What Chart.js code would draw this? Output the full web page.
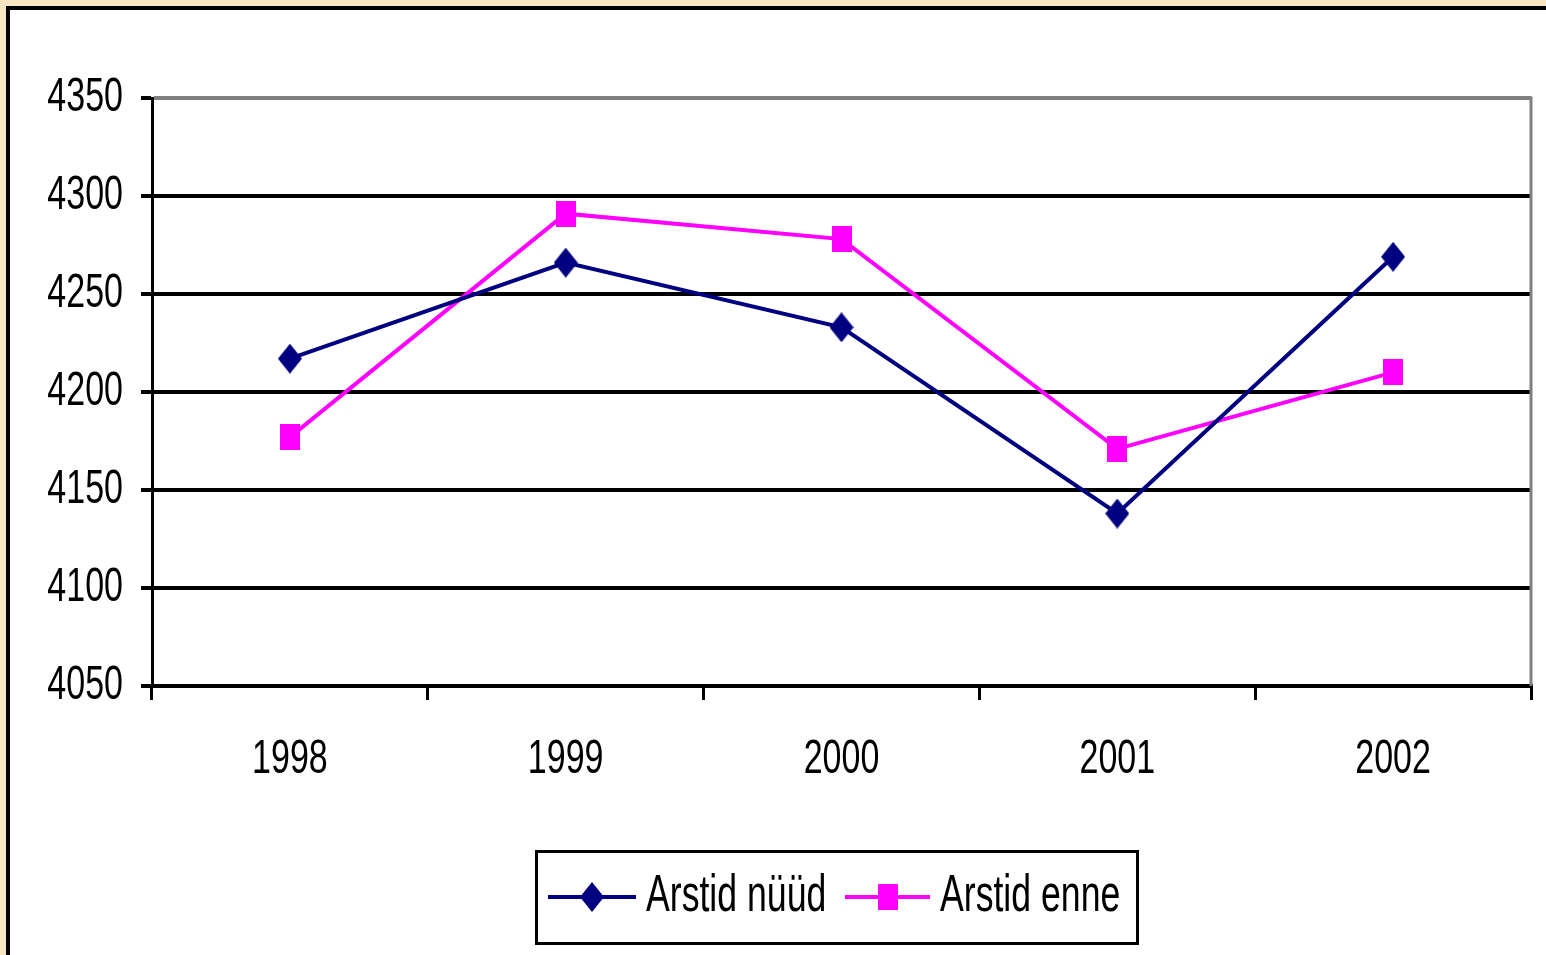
<!DOCTYPE html>
<html>
<head>
<meta charset="utf-8">
<script src="https://cdn.jsdelivr.net/npm/chart.js@4/dist/chart.umd.min.js"></script>
<style>
  html, body { margin: 0; padding: 0; width: 1546px; height: 955px; overflow: hidden; background: #f8e6c2; }
  #frame { position: absolute; left: 6px; top: 6px; width: 2000px; height: 2000px; background: #fff; border-left: 4px solid #000; border-top: 4px solid #000; }
  #wrap { position: absolute; left: 0; top: 0; width: 1546px; height: 955px; }
</style>
</head>
<body>
<div id="frame"></div>
<div id="wrap"><canvas id="c" width="1546" height="955"></canvas></div>
<script>
const categories = ['1998', '1999', '2000', '2001', '2002'];
const seriesNames = ['Arstid nüüd', 'Arstid enne'];
const arstidNuud = [4217, 4266, 4233, 4138, 4269];
const arstidEnne = [4177, 4291, 4278, 4171, 4210];
const yTicks = [4050, 4100, 4150, 4200, 4250, 4300, 4350];

const FONT = "'Liberation Sans', Arial, sans-serif";
const NAVY = '#000080';
const MAGENTA = '#ff00ff';
const TEXT_SX = 0.81, TEXT_SY = 1.16;

const canvas = document.getElementById('c');
const c2d = canvas.getContext('2d');
// Narrow, tall lettering like the original (Arial Narrow look)
c2d.fillText = function (t, x, y, mw) {
  this.save();
  this.translate(x, y);
  this.scale(TEXT_SX, TEXT_SY);
  if (mw === undefined) CanvasRenderingContext2D.prototype.fillText.call(this, t, 0, 0);
  else CanvasRenderingContext2D.prototype.fillText.call(this, t, 0, 0, mw / TEXT_SX);
  this.restore();
};

function makeDiamond(w, h, color) {
  const c = document.createElement('canvas');
  c.width = w; c.height = h;
  const g = c.getContext('2d');
  g.fillStyle = color;
  g.beginPath();
  g.moveTo(w / 2, 0); g.lineTo(w, h / 2); g.lineTo(w / 2, h); g.lineTo(0, h / 2);
  g.closePath(); g.fill();
  return c;
}
function makeSquare(w, h, color) {
  const c = document.createElement('canvas');
  c.width = w; c.height = h;
  const g = c.getContext('2d');
  g.fillStyle = color;
  g.fillRect(0, 0, w, h);
  return c;
}
const diamondImg = makeDiamond(24, 30, NAVY);
const squareImg = makeSquare(20, 26, MAGENTA);

const edgePlugin = {
  id: 'edges',
  afterDatasetsDraw(chart) {
    const { ctx, chartArea: a } = chart;
    ctx.save();
    ctx.strokeStyle = '#808080';
    ctx.lineWidth = 3;
    ctx.beginPath();
    ctx.moveTo(a.right, a.top - 1.5);
    ctx.lineTo(a.right, a.bottom);
    ctx.stroke();
    ctx.restore();
  }
};

const legendPlugin = {
  id: 'boxLegend',
  afterDraw(chart) {
    const ctx = chart.ctx;
    const ds = chart.data.datasets;
    ctx.save();
    ctx.strokeStyle = '#000';
    ctx.lineWidth = 3;
    ctx.strokeRect(536.5, 851.5, 601, 92);
    const items = [
      { x0: 548, x1: 636, tx: 646, img: diamondImg },
      { x0: 845, x1: 930, tx: 940, img: squareImg }
    ];
    const y = 897;
    items.forEach((it, i) => {
      ctx.strokeStyle = ds[i].borderColor;
      ctx.lineWidth = 4;
      ctx.beginPath();
      ctx.moveTo(it.x0, y); ctx.lineTo(it.x1, y); ctx.stroke();
      const cx = (it.x0 + it.x1) / 2;
      ctx.drawImage(it.img, cx - it.img.width / 2, y - it.img.height / 2);
      ctx.fillStyle = '#000';
      ctx.font = '44px ' + FONT;
      ctx.textBaseline = 'middle';
      ctx.textAlign = 'left';
      ctx.fillText(ds[i].label, it.tx, y);
    });
    ctx.restore();
  }
};

new Chart(canvas, {
  type: 'line',
  data: {
    labels: categories,
    datasets: [
      {
        label: seriesNames[0], data: arstidNuud,
        borderColor: NAVY, backgroundColor: NAVY, borderWidth: 4,
        pointStyle: diamondImg, tension: 0
      },
      {
        label: seriesNames[1], data: arstidEnne,
        borderColor: MAGENTA, backgroundColor: MAGENTA, borderWidth: 4,
        pointStyle: squareImg, tension: 0
      }
    ]
  },
  options: {
    responsive: false,
    animation: false,
    layout: { padding: { left: 0, top: 98, right: 15, bottom: 159 } },
    plugins: { legend: { display: false }, tooltip: { enabled: false } },
    scales: {
      x: {
        offset: true,
        afterFit(s) { s.height = 110; },
        border: { display: true, color: '#000', width: 4 },
        grid: { display: true, drawOnChartArea: false, drawTicks: true, tickLength: 14, color: '#000', lineWidth: 3, offset: true },
        ticks: { color: '#000', font: { family: FONT, size: 42 }, padding: 34, maxRotation: 0 }
      },
      y: {
        min: 4050, max: 4350,
        afterFit(s) { s.width = 152; },
        afterBuildTicks(s) { s.ticks = yTicks.map(v => ({ value: v })); },
        border: { display: true, color: '#000', width: 3 },
        grid: {
          color: c => (c.tick && c.tick.value === 4350) ? '#808080' : '#000',
          lineWidth: 4, tickLength: 11, tickColor: '#000'
        },
        ticks: { color: '#000', font: { family: FONT, size: 42 }, padding: 18, callback: v => String(v) }
      }
    }
  },
  plugins: [edgePlugin, legendPlugin]
});
</script>
</body>
</html>
